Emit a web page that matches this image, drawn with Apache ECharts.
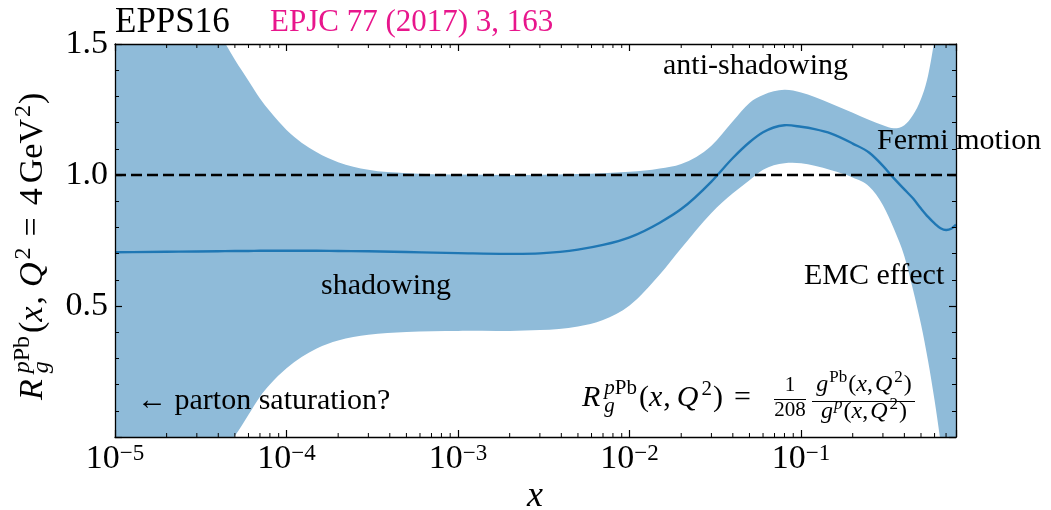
<!DOCTYPE html>
<html>
<head>
<meta charset="utf-8">
<script src="https://cdn.jsdelivr.net/npm/echarts@6/dist/echarts.min.js"></script>
<style>
html, body { margin: 0; padding: 0; background: #fff; }
#chart { width: 1051px; height: 510px; }
</style>
</head>
<body>
<div id="chart"></div>
<script>
// EPPS16 gluon nuclear modification R_g^{pPb}(x, Q^2 = 4 GeV^2)
const xs = [1e-5, 2e-5, 3e-5, 4e-5, 5e-5, 6e-5, 7e-5, 8e-5, 1e-4, 1.5e-4, 2e-4, 3e-4, 5e-4,
  1e-3, 2e-3, 3e-3, 5e-3, 7e-3, 1e-2, 1.5e-2, 2e-2, 3e-2, 4e-2, 5e-2, 6e-2, 8e-2,
  0.1, 0.12, 0.15, 0.2, 0.25, 0.3, 0.35, 0.4, 0.45, 0.5, 0.55, 0.6, 0.65, 0.7, 0.75, 0.8];

// central fit
const central = [0.705, 0.707, 0.708, 0.709, 0.710, 0.710, 0.711, 0.711, 0.711, 0.711, 0.710, 0.709, 0.706,
  0.702, 0.699, 0.701, 0.715, 0.733, 0.762, 0.818, 0.870, 0.975, 1.065, 1.125, 1.163, 1.190,
  1.184, 1.175, 1.158, 1.120, 1.085, 1.035, 0.985, 0.945, 0.910, 0.872, 0.840, 0.815, 0.797, 0.790, 0.795, 0.810];

// upper edge of the uncertainty band
const upper = [2.40, 1.95, 1.70, 1.55, 1.44, 1.36, 1.292, 1.243, 1.172, 1.087, 1.049, 1.020, 1.007,
  1.002, 1.000, 1.001, 1.004, 1.007, 1.012, 1.025, 1.042, 1.112, 1.205, 1.275, 1.305, 1.325,
  1.315, 1.298, 1.272, 1.238, 1.210, 1.190, 1.178, 1.190, 1.230, 1.290, 1.380, 1.520, 1.680, 1.850, 2.000, 2.150];

// lower edge of the uncertainty band
const lower = [-0.75, -0.38, -0.17, -0.05, 0.005, 0.085, 0.154, 0.200, 0.262, 0.338, 0.368, 0.390, 0.401,
  0.405, 0.405, 0.408, 0.422, 0.447, 0.502, 0.620, 0.720, 0.855, 0.930, 0.980, 1.020, 1.045,
  1.045, 1.035, 1.018, 0.990, 0.955, 0.885, 0.790, 0.690, 0.560, 0.430, 0.290, 0.140, -0.020, -0.200, -0.400, -0.600];

const yTicks = [0.5, 1.0, 1.5];
const refLevel = [1.0, 1.0];

// minor ticks of the logarithmic x axis (2..9 in each decade)
const minorX = [];
for (let d = -5; d <= -1; d++) {
  for (let m = 2; m <= 9; m++) {
    const v = m * Math.pow(10, d);
    if (v < 0.79) minorX.push(v);
  }
}

const FONT = '"Liberation Serif", "DejaVu Serif", serif';
const BAND = '#8fbbd9';
const LINE = '#1f77b4';
const TOP_Z = 100;

// text measuring for the small formula layouts
const mctx = document.createElement('canvas').getContext('2d');
function tw(t, size, it) {
  mctx.font = (it ? 'italic ' : '') + size + 'px ' + FONT;
  return mctx.measureText(t).width;
}

// lay out a run of tokens on a baseline: [text, size, italic, shift(+down), gapBefore, hold]
function run(tokens, x0, base, fill) {
  let x = x0;
  const els = [];
  tokens.forEach(k => {
    const [t, s, it, sh = 0, gap = 0, hold = false] = k;
    x += gap;
    els.push({
      type: 'text', x: x, y: base + sh - 0.305 * s, silent: true, z: TOP_Z,
      style: {
        text: t, fontSize: s, fontFamily: FONT, fontStyle: it ? 'italic' : 'normal',
        fill: fill || '#000', align: 'left', verticalAlign: 'middle'
      }
    });
    if (!hold) x += tw(t, s, it);
  });
  return { els, width: x - x0 };
}
function runWidth(tokens) { return run(tokens, 0, 0).width; }

const graphics = [];
function label(t, x, base, size, fill, it) {
  graphics.push(...run([[t, size, !!it]], x, base, fill).els);
}

// title line
label('EPPS16', 115, 33, 35, '#000');
label('EPJC 77 (2017) 3, 163', 270, 32, 31, '#e8168c');

// physics region annotations
label('anti-shadowing', 663, 75, 30);
label('Fermi motion', 877, 150, 30);
label('EMC effect', 804, 285, 30);
label('shadowing', 321, 295, 30);
label('\u2190 parton saturation?', 137, 410, 30);

// definition of the ratio, lower right
graphics.push(...run([
  ['R', 30, true, 0, 0],
  ['g', 21, true, 6, 4, true],
  ['p', 21, true, -12, 0],
  ['Pb', 21, false, -12, 0],
  ['(', 30, false, 0, 2],
  ['x', 30, true, 0, 0],
  [',', 30, false, 0, 1],
  ['Q', 30, true, 0, 6],
  ['2', 21, false, -11, 3],
  [')', 30, false, 0, 1],
  ['=', 30, false, 0, 11]
], 582, 407).els);

const oneTok = [['1', 21, false]];
const a208Tok = [['208', 21, false]];
graphics.push(...run(oneTok, 790 - runWidth(oneTok) / 2, 392).els);
graphics.push(...run(a208Tok, 790 - runWidth(a208Tok) / 2, 417).els);
graphics.push({ type: 'line', silent: true, z: TOP_Z, shape: { x1: 774, y1: 399.5, x2: 806, y2: 399.5 }, style: { stroke: '#000', lineWidth: 1 } });

const numTok = [['g', 24, true], ['Pb', 17, false, -9, 1], ['(', 24, false, 0, 1], ['x', 24, true], [',', 24, false],
  ['Q', 24, true, 0, 2], ['2', 17, false, -9, 2], [')', 24, false, 0, 1]];
const denTok = [['g', 24, true], ['p', 17, true, -9, 1], ['(', 24, false, 0, 1], ['x', 24, true], [',', 24, false],
  ['Q', 24, true, 0, 2], ['2', 17, false, -9, 2], [')', 24, false, 0, 1]];
graphics.push(...run(numTok, 864 - runWidth(numTok) / 2, 392).els);
graphics.push(...run(denTok, 864 - runWidth(denTok) / 2, 419).els);
graphics.push({ type: 'line', silent: true, z: TOP_Z, shape: { x1: 812, y1: 401.5, x2: 915, y2: 401.5 }, style: { stroke: '#000', lineWidth: 1 } });

// axis titles
graphics.push({
  type: 'text', x: 535, y: 508 - 0.305 * 36, silent: true, z: TOP_Z,
  style: { text: 'x', fontSize: 36, fontFamily: FONT, fontStyle: 'italic', fill: '#000', align: 'center', verticalAlign: 'middle' }
});
graphics.push({
  type: 'group', x: 43, y: 400, rotation: Math.PI / 2, silent: true, z: TOP_Z,
  children: run([
    ['R', 34, true, 0, 0],
    ['g', 24, true, 6, 6, true],
    ['p', 24, true, -13, 0],
    ['Pb', 24, false, -13, 0],
    ['(', 34, false, 0, 3],
    ['x', 34, true, 0, 0],
    [',', 34, false, 0, 2],
    ['Q', 34, true, 0, 9],
    ['2', 24, false, -12, 3],
    ['=', 34, false, 0, 11],
    ['4', 34, false, 0, 12],
    ['GeV', 34, false, 0, 5],
    ['2', 24, false, -12, 2],
    [')', 34, false, 0, 1]
  ], 0, 0).els
});

const axisLineStyle = { color: '#000', width: 1.3 };
const tickStyle = { show: true, inside: true, length: 7, lineStyle: { color: '#000', width: 1.2 } };

function powLabel(v) {
  const l = Math.log10(v);
  const e = Math.round(l);
  if (Math.abs(l - e) > 1e-6) return '';
  return '{b|10}{s|' + (e < 0 ? '\u2212' : '') + Math.abs(e) + '}';
}

// cubic segments through screen points (x increasing), 3-point slopes
function smoothSegments(pts) {
  const n = pts.length;
  const d = new Array(n);
  for (let i = 0; i < n; i++) {
    if (i === 0) d[i] = (pts[1][1] - pts[0][1]) / (pts[1][0] - pts[0][0]);
    else if (i === n - 1) d[i] = (pts[n - 1][1] - pts[n - 2][1]) / (pts[n - 1][0] - pts[n - 2][0]);
    else {
      const h0 = pts[i][0] - pts[i - 1][0], h1 = pts[i + 1][0] - pts[i][0];
      const s0 = (pts[i][1] - pts[i - 1][1]) / h0, s1 = (pts[i + 1][1] - pts[i][1]) / h1;
      d[i] = (s0 * h1 + s1 * h0) / (h0 + h1);
    }
  }
  const segs = [];
  for (let i = 0; i < n - 1; i++) {
    const h = (pts[i + 1][0] - pts[i][0]) / 3;
    segs.push([pts[i], [pts[i][0] + h, pts[i][1] + d[i] * h], [pts[i + 1][0] - h, pts[i + 1][1] - d[i + 1] * h], pts[i + 1]]);
  }
  return segs;
}
// SVG path data from segments; reversed walks right to left
function segsToPath(segs, reversed, startWithMove) {
  const list = reversed ? segs.slice().reverse().map(s => [s[3], s[2], s[1], s[0]]) : segs;
  let p = (startWithMove ? 'M' : 'L') + list[0][0][0] + ' ' + list[0][0][1];
  list.forEach(s => {
    p += ' C' + s[1][0] + ' ' + s[1][1] + ' ' + s[2][0] + ' ' + s[2][1] + ' ' + s[3][0] + ' ' + s[3][1];
  });
  return p;
}

const xBase = { type: 'log', logBase: 10, min: xs[0], max: xs[xs.length - 1], gridIndex: 0, z: 10,
  axisLine: { show: true, onZero: false, lineStyle: axisLineStyle }, axisTick: tickStyle, splitLine: { show: false } };
const yBase = { type: 'value', min: 0, max: yTicks[yTicks.length - 1], interval: yTicks[1] - yTicks[0], gridIndex: 0, z: 10,
  axisLine: { show: true, onZero: false, lineStyle: axisLineStyle }, axisTick: tickStyle, splitLine: { show: false },
  minorTick: { show: true, splitNumber: 5, length: 4, lineStyle: { color: '#000', width: 1 } } };

const chart = echarts.init(document.getElementById('chart'), null, { renderer: 'canvas' });
chart.setOption({
  animation: false,
  backgroundColor: '#fff',
  grid: { left: 115, top: 44, width: 841, height: 393, containLabel: false, outerBoundsMode: 'none' },
  xAxis: [
    Object.assign({}, xBase, {
      position: 'bottom',
      axisLabel: {
        show: true, margin: 5, formatter: powLabel, hideOverlap: false,
        rich: {
          b: { fontSize: 34, fontFamily: FONT, color: '#000', lineHeight: 34, verticalAlign: 'bottom' },
          s: { fontSize: 23, fontFamily: FONT, color: '#000', lineHeight: 18, verticalAlign: 'top' }
        }
      }
    }),
    Object.assign({}, xBase, { position: 'top', axisLabel: { show: false } })
  ],
  yAxis: [
    Object.assign({}, yBase, {
      position: 'left',
      axisLabel: {
        show: true, margin: 7, fontSize: 34, fontFamily: FONT, color: '#000', padding: [5, 0, 0, 0],
        formatter: v => (yTicks.some(t => Math.abs(t - v) < 1e-9) ? v.toFixed(1) : '')
      }
    }),
    Object.assign({}, yBase, { position: 'right', axisLabel: { show: false } })
  ],
  series: [
    {
      // uncertainty band between the lower and upper edges
      type: 'custom', name: 'band', xAxisIndex: 0, yAxisIndex: 0, clip: true, z: 1, silent: true,
      data: xs.map((x, i) => [x, lower[i], upper[i]]),
      encode: { x: 0, y: [1, 2] },
      renderItem: (params, api) => {
        if (params.dataIndex !== 0) return null;
        const top = xs.map((x, i) => api.coord([x, upper[i]]));
        const bot = xs.map((x, i) => api.coord([x, lower[i]]));
        const path = segsToPath(smoothSegments(top), false, true) + ' ' +
          segsToPath(smoothSegments(bot), true, false) + ' Z';
        return { type: 'path', shape: { pathData: path }, style: { fill: BAND } };
      }
    },
    {
      // central curve, smoothed the same way as the band edges
      type: 'custom', name: 'central', xAxisIndex: 0, yAxisIndex: 0, clip: true, z: 3, silent: true,
      data: xs.map((x, i) => [x, central[i]]),
      encode: { x: 0, y: 1 },
      renderItem: (params, api) => {
        if (params.dataIndex !== 0) return null;
        const pts = xs.map((x, i) => api.coord([x, central[i]]));
        return {
          type: 'path', shape: { pathData: segsToPath(smoothSegments(pts), false, true) },
          style: { fill: null, stroke: LINE, lineWidth: 2.4 }
        };
      }
    },
    {
      type: 'line', name: 'unity', xAxisIndex: 0, yAxisIndex: 0, z: 4, silent: true,
      data: [[xs[0], refLevel[0]], [xs[xs.length - 1], refLevel[1]]],
      showSymbol: false, symbol: 'none',
      lineStyle: { color: '#000', width: 2.6, type: [11, 5] }
    },
    {
      type: 'custom', name: 'minorTicks', xAxisIndex: 0, yAxisIndex: 0, z: 11, silent: true, clip: false,
      data: minorX.map(v => [v, 0]),
      renderItem: (params, api) => {
        const x = api.coord([api.value(0), 0])[0];
        const cs = params.coordSys;
        const st = { stroke: '#000', lineWidth: 1 };
        return {
          type: 'group', children: [
            { type: 'line', shape: { x1: x, y1: cs.y + cs.height, x2: x, y2: cs.y + cs.height - 4 }, style: st },
            { type: 'line', shape: { x1: x, y1: cs.y, x2: x, y2: cs.y + 4 }, style: st }
          ]
        };
      }
    }
  ],
  graphic: graphics
});
</script>
</body>
</html>
